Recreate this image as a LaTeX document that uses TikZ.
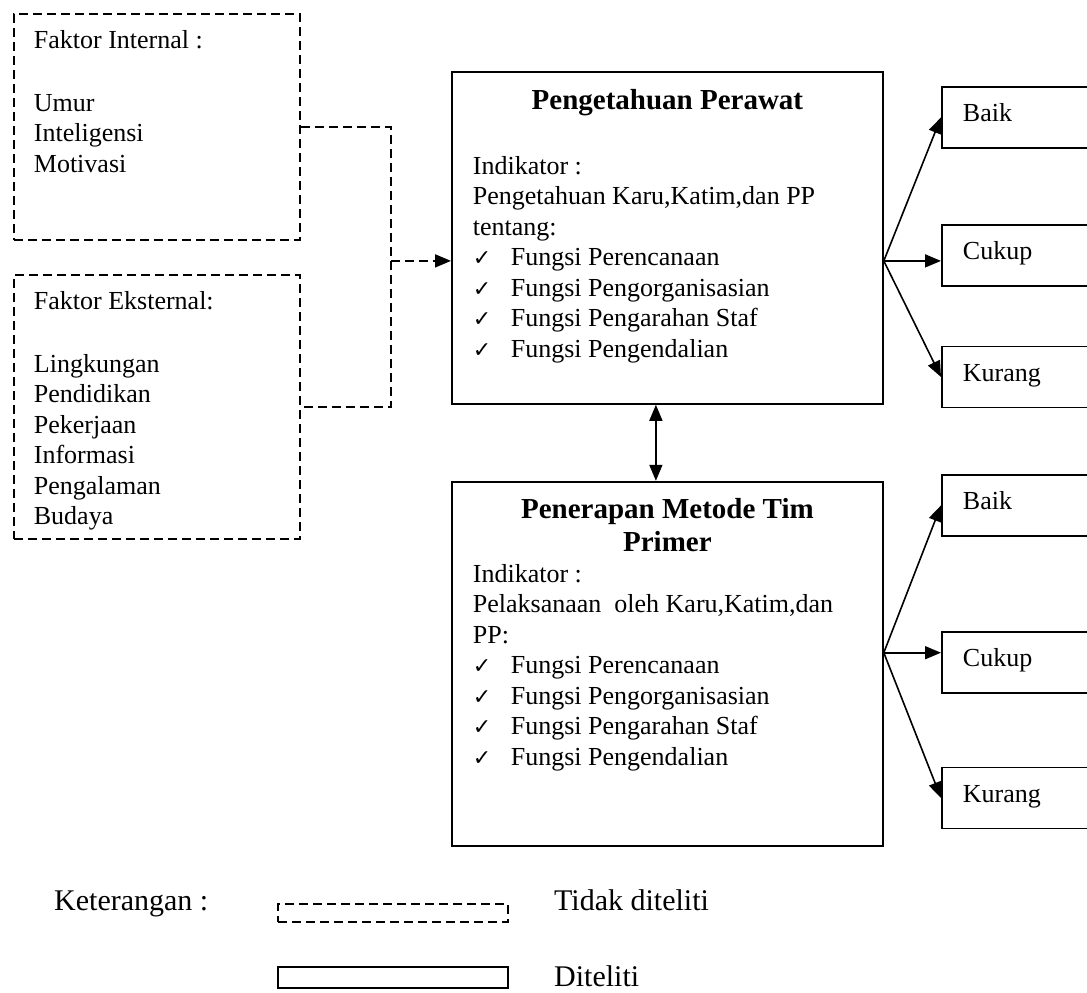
\documentclass[tikz,border=0pt]{standalone}
\usepackage{fontspec}
\setmainfont{Liberation Serif}
\newfontfamily\symfont{DejaVu Sans}
\usetikzlibrary{arrows.meta,positioning}

\newcommand{\bodysize}{\fontsize{26}{30.5}\selectfont}
\newcommand{\titlesize}{\fontsize{29}{33}\selectfont\bfseries}
\newcommand{\cek}{\makebox[38pt][l]{\symfont\fontsize{22}{22}\selectfont ✓}}

\begin{document}
\begin{tikzpicture}[
    x=1pt, y=1pt,
    >={Triangle[length=16pt,width=13pt]},
    faktor/.style={rectangle, draw, dash pattern=on 9pt off 5pt, line width=1.8pt, anchor=north west, inner xsep=20pt, inner ysep=17pt, font=\bodysize},
    mainbox/.style={rectangle, draw, line width=1.8pt, inner xsep=21pt, inner ysep=17pt, font=\bodysize},
    hasil/.style={rectangle, draw, line width=1.8pt, text width=120pt, align=left, inner xsep=21pt, minimum height=61pt, text height=17pt, text depth=8pt, font=\bodysize},
    legbox/.style={rectangle, draw, line width=1.8pt, anchor=north west, inner sep=0pt, minimum width=230pt},
    arrow/.style={line width=1.6pt,->},
    dashline/.style={line width=1.8pt, dash pattern=on 9pt off 5pt},
    ket/.style={font=\fontsize{30}{34}\selectfont, anchor=base west, inner sep=0pt}
  ]
  \useasboundingbox (0,0) rectangle (1087,-993);

  % Faktor yang tidak diteliti (kiri)
  \node[faktor] (intern) at (13,-13) {\parbox[t][192pt][t]{246pt}{Faktor Internal :\\[32pt]Umur\\Inteligensi\\Motivasi}};
  \node[faktor, below=33pt of intern] (extern) {\parbox[t][230pt][t]{246pt}{Faktor Eksternal:\\[32pt]Lingkungan\\Pendidikan\\Pekerjaan\\Informasi\\Pengalaman\\Budaya}};

  % Variabel yang diteliti (tengah)
  \node[mainbox, anchor=north west] (pp) at (451,-71) {\parbox[t][298pt][t]{389pt}{{\centering\titlesize Pengetahuan Perawat\par}
      \vspace{34.5pt}\raggedright
      Indikator :\\
      Pengetahuan Karu,Katim,dan PP\\
      tentang:\\
      \cek Fungsi Perencanaan\\
      \cek Fungsi Pengorganisasian\\
      \cek Fungsi Pengarahan Staf\\
      \cek Fungsi Pengendalian}};
  \node[mainbox, below=76pt of pp] (tim) {\parbox[t][330pt][t]{389pt}{{\centering\titlesize Penerapan Metode Tim\\Primer\par}
      \raggedright
      Indikator :\\
      Pelaksanaan\ \ oleh Karu,Katim,dan\\
      PP:\\
      \cek Fungsi Perencanaan\\
      \cek Fungsi Pengorganisasian\\
      \cek Fungsi Pengarahan Staf\\
      \cek Fungsi Pengendalian}};

  % Hasil (kanan)
  \node[hasil, anchor=north west] (baik1) at (941,-86) {Baik};
  \node[hasil, below=75pt of baik1] (cukup1) {Cukup};
  \node[hasil, below=59pt of cukup1] (kurang1) {Kurang};
  \node[hasil, anchor=north west] (baik2) at (941,-474) {Baik};
  \node[hasil, below=94pt of baik2] (cukup2) {Cukup};
  \node[hasil, below=73pt of cukup2] (kurang2) {Kurang};

  % Garis putus-putus dari faktor
  \coordinate (bus) at ([xshift=90pt]intern.east);
  \coordinate (masuk) at ([yshift=-23pt]pp.west);
  \draw[dashline] (intern.east) -- (bus) |- (extern.east);
  \draw[dashline, ->] (bus |- masuk) -- (masuk);

  % Panah hasil
  \coordinate (fan1) at ([yshift=-23pt]pp.east);
  \coordinate (fan2) at ([yshift=11pt]tim.east);
  \draw[arrow] (fan1) -- (baik1.west);
  \draw[arrow] (fan1) -- (cukup1.west |- fan1);
  \draw[arrow] (fan1) -- (kurang1.west);
  \draw[arrow] (fan2) -- (baik2.west);
  \draw[arrow] (fan2) -- (cukup2.west |- fan2);
  \draw[arrow] (fan2) -- (kurang2.west);
  \draw[arrow, <->] ([xshift=-11.5pt]pp.south) -- ([xshift=-11.5pt]tim.north);

  % Keterangan
  \node[ket] (ket) at (54,-910) {Keterangan :};
  \node[legbox, dash pattern=on 9pt off 5pt, minimum height=18pt] (legtidak) at (277,-903) {};
  \node[ket] (tidak) at (554,-910) {Tidak diteliti};
  \node[legbox, minimum height=21pt] (legya) at (277,-966) {};
  \node[ket] (ya) at (554,-986) {Diteliti};

\end{tikzpicture}
\end{document}
